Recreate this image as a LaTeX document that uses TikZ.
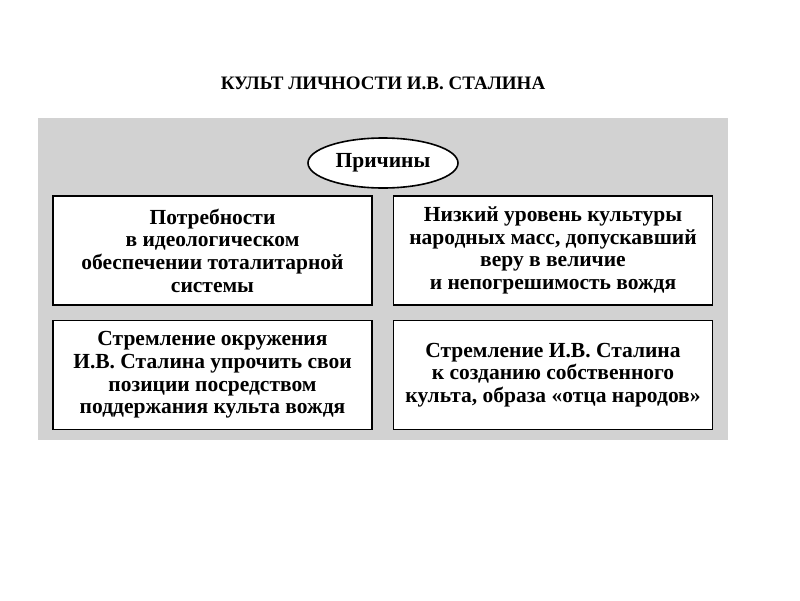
\documentclass[tikz,border=0pt]{standalone}
\usepackage{fontspec}
\setmainfont{Liberation Serif}
\usetikzlibrary{shapes.geometric}
\begin{document}
\begin{tikzpicture}[x=1pt,y=-1pt,
  box/.style={draw=black,line width=1.6pt,fill=white,minimum width=319pt,minimum height=109pt,align=center,font=\bfseries\fontsize{21.5}{22.7}\selectfont,inner sep=2pt}]
\useasboundingbox (0,0) rectangle (800,600);
\fill[white] (0,0) rectangle (800,600);
\fill[gray!35] (38,118) rectangle (728,440);
\node[font=\bfseries\fontsize{19}{22}\selectfont] (title) at (383,83) {КУЛЬТ ЛИЧНОСТИ И.В. СТАЛИНА};
\node[ellipse,draw,line width=1.6pt,fill=white,minimum width=150pt,minimum height=50pt,inner sep=0pt,font=\fontsize{21.5}{22}\selectfont\bfseries] (c) at (383,163) {Причины};
\node[box] (a) at (212.5,250.5) {Потребности\\в идеологическом\\обеспечении тоталитарной\\системы};
\node[box] (b) at (553,250.5) {Низкий уровень культуры\\народных масс, допускавший\\веру в величие\\и непогрешимость вождя};
\node[box] (d) at (212.5,375) {Стремление окружения\\И.В. Сталина упрочить свои\\позиции посредством\\поддержания культа вождя};
\node[box] (e) at (553,375) {Стремление И.В. Сталина\\к созданию собственного\\культа, образа «отца народов»};
\end{tikzpicture}
\end{document}
